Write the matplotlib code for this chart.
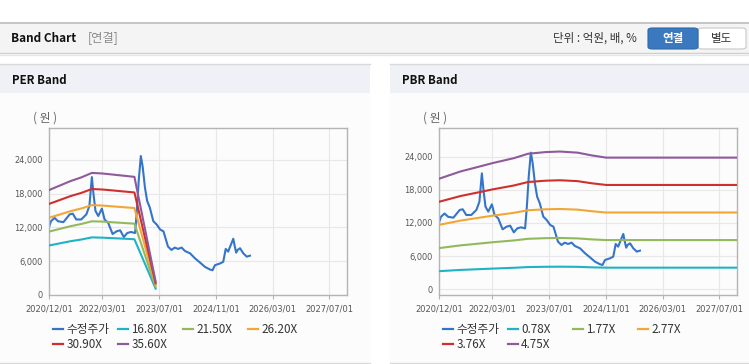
import matplotlib
matplotlib.use('Agg')
import matplotlib.pyplot as plt
from matplotlib.patches import Rectangle, FancyBboxPatch
from matplotlib.lines import Line2D
import numpy as np

W, H = 749, 364
plt.rcParams['font.family'] = ['Noto Sans CJK KR', 'DejaVu Sans']

# ---------------- data ----------------
price_label = '수정주가'
price_dates = ['2020-12-01', '2020-12-15', '2021-01-15', '2021-02-15', '2021-04-01', '2021-05-25',
               '2021-06-20', '2021-07-20', '2021-09-01', '2021-10-15', '2021-11-10', '2021-12-01',
               '2021-12-15', '2022-01-01', '2022-01-25', '2022-02-25', '2022-03-20', '2022-04-20',
               '2022-05-28', '2022-07-01', '2022-08-01', '2022-09-01', '2022-10-01', '2022-11-01',
               '2022-12-07', '2022-12-22', '2023-01-07', '2023-01-25', '2023-02-10', '2023-03-01',
               '2023-03-20', '2023-04-12', '2023-05-12', '2023-06-10', '2023-07-10', '2023-08-07',
               '2023-08-20', '2023-09-15', '2023-10-15', '2023-11-12', '2023-12-10', '2024-01-10',
               '2024-02-07', '2024-03-22', '2024-05-04', '2024-06-15', '2024-07-28', '2024-09-10',
               '2024-10-01', '2024-10-22', '2024-12-04', '2025-01-01', '2025-01-22', '2025-02-12',
               '2025-03-28', '2025-04-10', '2025-04-22', '2025-05-04', '2025-05-25', '2025-06-22',
               '2025-07-22', '2025-08-18']
price_values = [12200, 13100, 13700, 13100, 12950, 14340,
                14460, 13430, 13430, 14340, 15840, 20960,
                17950, 14940, 14040, 15360, 13430, 12830,
                10840, 11320, 11500, 10300, 11020, 11200,
                11020, 14940, 20360, 24700, 22770, 19150,
                16750, 15540, 13130, 12530, 11630, 11320,
                10420, 8610, 8010, 8430, 8190, 8430,
                7830, 7410, 6510, 5780, 5000, 4520,
                4400, 5300, 5600, 5900, 8190, 7710,
                10000, 8610, 7530, 8010, 8310, 7410,
                6810, 6990]

per_dates = ['2020-12-01', '2021-03-01', '2021-06-01', '2021-09-01', '2021-12-01',
             '2022-03-01', '2022-06-01', '2022-09-01', '2022-12-01', '2023-06-01']
per_labels = ['16.80X', '21.50X', '26.20X', '30.90X', '35.60X']
per_16_80 = [8810, 9180, 9560, 9860, 10240, 10190, 10100, 10010, 9910, 1130]
per_21_50 = [11280, 11750, 12230, 12620, 13100, 13050, 12920, 12800, 12680, 1450]
per_26_20 = [13740, 14310, 14900, 15380, 15970, 15900, 15750, 15600, 15460, 1770]
per_30_90 = [16210, 16880, 17580, 18140, 18840, 18750, 18580, 18400, 18230, 2080]
per_35_60 = [18670, 19450, 20250, 20900, 21700, 21600, 21400, 21200, 21000, 2400]

pbr_dates = ['2020-12-01', '2021-06-01', '2021-12-01', '2022-03-01', '2022-09-01', '2023-01-01',
             '2023-06-01', '2023-10-01', '2024-03-01', '2024-07-01', '2024-11-01', '2027-12-01']
pbr_labels = ['0.78X', '1.77X', '2.77X', '3.76X', '4.75X']
pbr_0_78 = [3280, 3500, 3660, 3740, 3890, 4020, 4070, 4090, 4060, 3970, 3910, 3910]
pbr_1_77 = [7450, 7940, 8310, 8500, 8830, 9130, 9240, 9280, 9200, 9020, 8900, 8900]
pbr_2_77 = [11660, 12420, 13010, 13300, 13820, 14290, 14460, 14520, 14400, 14110, 13880, 13880]
pbr_3_76 = [15830, 16860, 17650, 18050, 18760, 19390, 19630, 19710, 19550, 19160, 18860, 18860]
pbr_4_75 = [20000, 21300, 22300, 22800, 23700, 24500, 24800, 24900, 24700, 24200, 23800, 23800]

x_ticks = ['2020-12-01', '2022-03-01', '2023-07-01', '2024-11-01', '2026-03-01', '2027-07-01']
x_tick_labels = ['2020/12/01', '2022/03/01', '2023/07/01', '2024/11/01', '2026/03/01', '2027/07/01']
y_ticks = [0, 6000, 12000, 18000, 24000]
y_tick_labels = ['0', '6,000', '12,000', '18,000', '24,000']
x_range = ['2020-12-01', '2027-12-01']

series_colors = ['#3575c9', '#1fb3c3', '#93b95c', '#f2a635', '#d0302d', '#8f5a9c']

# ---------------- figure ----------------
fig = plt.figure(figsize=(W / 100, H / 100), dpi=100)
fig.patch.set_facecolor('white')


def rect(x, y, w, h, fc, ec='none', lw=0, z=-5):
    fig.patches.append(Rectangle((x / W, 1 - (y + h) / H), w / W, h / H, transform=fig.transFigure,
                                 facecolor=fc, edgecolor=ec, linewidth=lw, zorder=z))


def hline(x0, x1, y, color, lw=1.0):
    fig.lines.append(Line2D([x0 / W, x1 / W], [1 - y / H, 1 - y / H], transform=fig.transFigure,
                            color=color, linewidth=lw, zorder=-4))


def text(x, y, s, **kw):
    fig.text(x / W, 1 - y / H, s, **kw)


# top header bar
rect(0, 22, W, 31, '#f4f4f4')
hline(0, W, 22.5, '#bdbdbd', 1.2)
hline(0, W, 53, '#cfcfcf', 1.0)
hline(0, W, 54.5, '#e6e6e6', 1.0)
text(11, 38, 'Band Chart', fontsize=8.5, fontweight='bold', color='#111111', va='center')
text(88, 38, '[연결]', fontsize=8.8, color='#8a8a8a', va='center')
text(553, 38, '단위 : 억원, 배, %', fontsize=8.3, color='#333333', va='center')
fig.patches.append(FancyBboxPatch((698 / W, 1 - 49 / H), 48 / W, 21 / H, boxstyle='round,pad=0,rounding_size=0.006',
                                  transform=fig.transFigure, facecolor='white', edgecolor='#c8c8c8', linewidth=0.8))
fig.patches.append(FancyBboxPatch((648 / W, 1 - 49 / H), 50 / W, 21 / H, boxstyle='round,pad=0,rounding_size=0.006',
                                  transform=fig.transFigure, facecolor='#3a79bf', edgecolor='#2f69a8', linewidth=0.8))
text(673, 38.5, '연결', fontsize=8.3, fontweight='bold', color='white', va='center', ha='center')
text(722, 38.5, '별도', fontsize=8.3, color='#333333', va='center', ha='center')

# panels
for px0, pw, title in [(0, 370, 'PER Band'), (390, 359, 'PBR Band')]:
    rect(px0, 93, pw, 270, '#fcfcfc')
    rect(px0, 64, pw, 29, '#eef2f7')
    hline(px0, px0 + pw, 64.3, '#d9d9d9', 1.0)
    hline(px0, px0 + pw, 363, '#d9d9d9', 1.0)
    text(px0 + 11.7, 80.5, title, fontsize=8.3, fontweight='bold', color='#111111', va='center')
    text(px0 + 33, 118, '( 원 )', fontsize=8.5, color='#666666', va='center')


def make_axes(x0, ylim):
    ax = fig.add_axes([x0 / W, 1 - 295 / H, 298 / W, (295 - 128.3) / H])
    ax.set_zorder(10)
    ax.set_facecolor('none')
    ax.set_xlim(np.datetime64(x_range[0]), np.datetime64(x_range[1]))
    ax.set_ylim(*ylim)
    ax.set_xticks([np.datetime64(t) for t in x_ticks])
    ax.set_xticklabels(x_tick_labels, fontfamily='DejaVu Sans', fontsize=6.0, color='#555555')
    ax.set_yticks(y_ticks)
    ax.set_yticklabels(y_tick_labels, fontfamily='DejaVu Sans', fontsize=5.9, color='#555555')
    ax.grid(True, color='#e8e8e8', linewidth=0.8, zorder=0)
    ax.set_axisbelow(True)
    for sp in ax.spines.values():
        sp.set_color('#b4b4b4')
        sp.set_linewidth(1.0)
    ax.tick_params(axis='x', length=3, color='#b4b4b4', pad=3.5)
    ax.tick_params(axis='y', length=0, pad=4.8)
    return ax


def legend(x_off, labels, lines):
    cols = [53, 118, 183, 248]
    rows = [329.3, 344]
    for i, (lab, ln) in enumerate(zip(labels, lines)):
        cx = cols[i % 4] + x_off
        cy = rows[i // 4]
        fig.lines.append(Line2D([cx / W, (cx + 10) / W], [1 - cy / H, 1 - cy / H], transform=fig.transFigure,
                                color=ln.get_color(), linewidth=1.6))
        text(cx + 13.5, cy, lab, fontsize=8.4, color='#333333', va='center')


pd_price = [np.datetime64(d) for d in price_dates]

# PER chart
ax1 = make_axes(49.3, (0, 29630))
l_price = ax1.plot(pd_price, price_values, color=series_colors[0], lw=1.5, zorder=2)[0]
per_d = [np.datetime64(d) for d in per_dates]
per_lines = [l_price]
for vals, c in zip([per_16_80, per_21_50, per_26_20, per_30_90, per_35_60], series_colors[1:]):
    per_lines.append(ax1.plot(per_d, vals, color=c, lw=1.5, zorder=3)[0])
legend(0, [price_label] + per_labels, per_lines)

# PBR chart
ax2 = make_axes(439.3, (-1030, 29100))
l_price2 = ax2.plot(pd_price, price_values, color=series_colors[0], lw=1.5, zorder=2)[0]
pbr_d = [np.datetime64(d) for d in pbr_dates]
pbr_lines = [l_price2]
for vals, c in zip([pbr_0_78, pbr_1_77, pbr_2_77, pbr_3_76, pbr_4_75], series_colors[1:]):
    pbr_lines.append(ax2.plot(pbr_d, vals, color=c, lw=1.5, zorder=3)[0])
legend(389.7, [price_label] + pbr_labels, pbr_lines)

fig.savefig('out.png', dpi=100)
